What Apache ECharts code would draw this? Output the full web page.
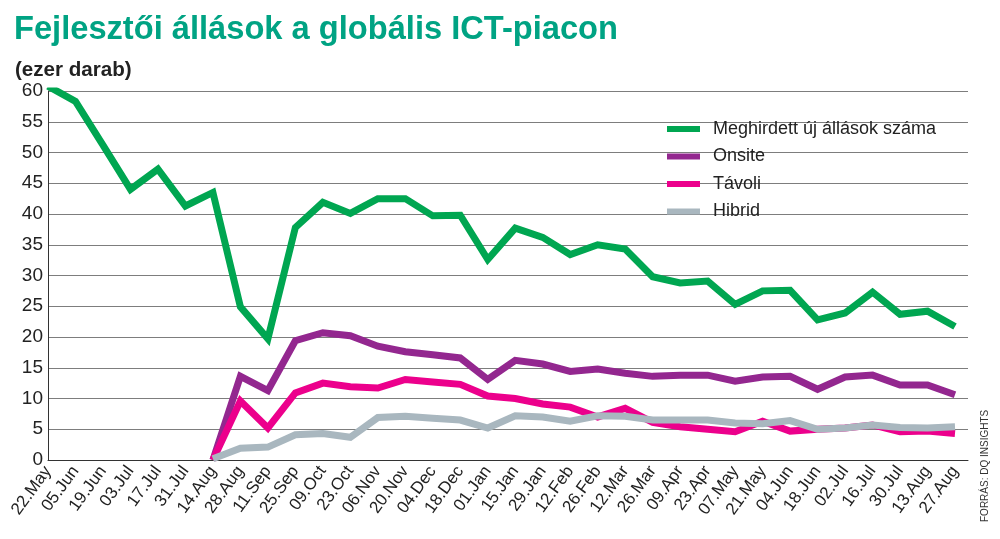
<!DOCTYPE html>
<html>
<head>
<meta charset="utf-8">
<script src="https://cdn.jsdelivr.net/npm/echarts@6/dist/echarts.min.js"></script>
<style>html,body{margin:0;padding:0;background:#fff}#c{width:1000px;height:539px}</style>
</head>
<body>
<div id="c"></div>
<script>
const categories = ['22.May','05.Jun','19.Jun','03.Jul','17.Jul','31.Jul','14.Aug','28.Aug','11.Sep','25.Sep','09.Oct','23.Oct','06.Nov','20.Nov','04.Dec','18.Dec','01.Jan','15.Jan','29.Jan','12.Feb','26.Feb','12.Mar','26.Mar','09.Apr','23.Apr','07.May','21.May','04.Jun','18.Jun','02.Jul','16.Jul','30.Jul','13.Aug','27.Aug'];
const meghirdett = [60.8,58.3,51.2,44.0,47.3,41.3,43.5,24.9,19.7,37.8,41.9,40.1,42.5,42.5,39.7,39.8,32.6,37.7,36.2,33.4,35.0,34.3,29.8,28.8,29.1,25.3,27.5,27.6,22.8,23.9,27.3,23.7,24.2,21.7];
const onsite = [null,null,null,null,null,null,0,13.6,11.3,19.4,20.7,20.2,18.5,17.6,17.1,16.6,13.1,16.2,15.6,14.4,14.8,14.1,13.6,13.8,13.8,12.8,13.5,13.6,11.5,13.5,13.8,12.2,12.2,10.6];
const tavoli = [null,null,null,null,null,null,0,9.6,5.2,10.9,12.5,11.9,11.7,13.1,12.7,12.3,10.4,10.0,9.1,8.6,7.0,8.4,6.1,5.4,5.0,4.6,6.3,4.7,5.0,5.2,5.7,4.6,4.7,4.3];
const hibrid = [null,null,null,null,null,null,0.2,1.9,2.1,4.1,4.3,3.7,6.9,7.1,6.8,6.5,5.2,7.2,7.0,6.3,7.2,7.1,6.5,6.5,6.5,6.0,5.9,6.4,5.0,5.2,5.7,5.3,5.2,5.4];
const yTicks = {min: 0, max: 60, interval: 5};

const font = '"Liberation Sans",Arial,sans-serif';
const chart = echarts.init(document.getElementById('c'));
const lineSeries = (name, data, color) => ({
  name, type: 'line', data, xAxisIndex: 0, yAxisIndex: 0,
  symbol: 'none', smooth: false, connectNulls: false,
  lineStyle: {width: 7, color, join: 'miter', cap: 'butt'},
  itemStyle: {color}, z: 5
});
chart.setOption({
  animation: false,
  legend: {
    orient: 'vertical', left: 662, top: 114, itemWidth: 33, itemHeight: 6, itemGap: 7.5,
    icon: 'rect',
    textStyle: {fontFamily: font, fontSize: 18, color: '#222', lineHeight: 20, padding: [0,0,0,8]},
    data: ['Meghirdett új állások száma','Onsite','Távoli','Hibrid']
  },
  grid: [
    {left: 48, right: 45, top: 91, bottom: 79},
    {left: 48, right: 32, top: 91, bottom: 79}
  ],
  xAxis: [
    {type: 'category', gridIndex: 0, data: categories, boundaryGap: false,
     axisLine: {show: false}, axisTick: {show: false},
     axisLabel: {interval: 0, rotate: 54, fontFamily: font, fontSize: 17, color: '#222', margin: 8}},
    {type: 'value', gridIndex: 1, min: 0, max: 1,
     axisLine: {show: true, lineStyle: {color: '#333', width: 1}},
     axisTick: {show: false}, axisLabel: {show: false}, splitLine: {show: false}}
  ],
  yAxis: [
    {type: 'value', gridIndex: 0, min: yTicks.min, max: yTicks.max, interval: yTicks.interval,
     axisLine: {show: true, lineStyle: {color: '#333', width: 1}}, axisTick: {show: false},
     splitLine: {show: false},
     axisLabel: {fontFamily: font, fontSize: 19, color: '#222', margin: 5}},
    {type: 'value', gridIndex: 1, min: yTicks.min, max: yTicks.max, interval: yTicks.interval,
     axisLine: {show: false}, axisTick: {show: false}, axisLabel: {show: false},
     splitLine: {show: true, lineStyle: {color: '#7d7d7d', width: 1}}}
  ],
  series: [
    lineSeries('Meghirdett új állások száma', meghirdett, '#00a651'),
    lineSeries('Onsite', onsite, '#93278f'),
    lineSeries('Távoli', tavoli, '#ec008c'),
    lineSeries('Hibrid', hibrid, '#a9b7bf')
  ],
  graphic: [
    {type: 'text', x: 14, y: 13, scaleX: 0.96,
     style: {text: 'Fejlesztői állások a globális ICT-piacon', fontFamily: font, fontSize: 34, fontWeight: 'bold', fill: '#00a383'}},
    {type: 'text', x: 15, y: 60, scaleX: 0.98,
     style: {text: '(ezer darab)', fontFamily: font, fontSize: 21, fontWeight: 'bold', fill: '#222'}},
    {type: 'text', x: 980, y: 522, rotation: Math.PI / 2,
     style: {text: 'FORRÁS: DQ INSIGHTS', fontFamily: font, fontSize: 10, fill: '#333', textAlign: 'left', textVerticalAlign: 'top'}}
  ]
});
</script>
</body>
</html>
